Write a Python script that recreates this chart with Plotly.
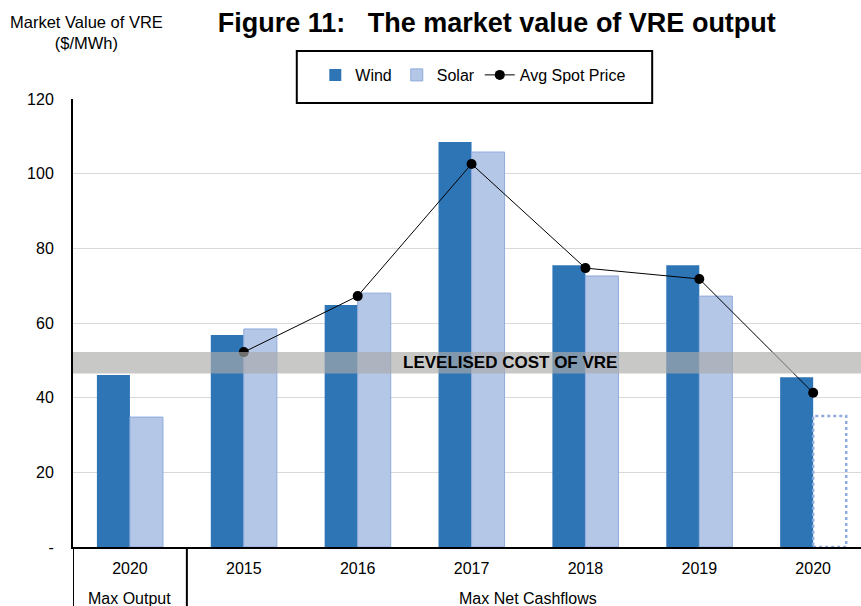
import plotly.graph_objects as go

categories = ["2020", "2015", "2016", "2017", "2018", "2019", "2020"]
wind = [46.1, 56.8, 64.8, 108.5, 75.5, 75.5, 45.5]
solar = [34.8, 58.4, 68.0, 105.8, 72.6, 67.2, None]
solar_estimate_2020 = 35.1
spot_x = [1, 2, 3, 4, 5, 6]
spot_price = [52.2, 67.2, 102.6, 74.7, 71.8, 41.3]
lcoe_low, lcoe_high = 46.5, 52.2
y_ticks = [0, 20, 40, 60, 80, 100, 120]
y_ticklabels = ["-", "20", "40", "60", "80", "100", "120"]
group_labels = ["Max Output", "Max Net Cashflows"]

WIND_C = "#2E75B6"
SOLAR_C = "#B4C7E7"
SOLAR_EDGE = "#8FAADC"
BW = 0.29
x = list(range(len(categories)))
FONT = "Liberation Sans, Arial, sans-serif"

fig = go.Figure()
fig.add_trace(go.Bar(x=x, y=wind, name="Wind", width=BW, offset=-BW,
                     marker=dict(color=WIND_C, line=dict(width=0))))
fig.add_trace(go.Bar(x=x, y=solar, name="Solar", width=BW, offset=0,
                     marker=dict(color=SOLAR_C, line=dict(color=SOLAR_EDGE, width=1))))
fig.add_trace(go.Scatter(x=spot_x, y=spot_price, name="Avg Spot Price", mode="lines+markers",
                         line=dict(color="black", width=1),
                         marker=dict(color="black", size=10)))

shapes = []
# dotted estimate bar for 2020 solar
shapes.append(dict(type="rect", xref="x", yref="y", x0=x[-1], x1=x[-1] + BW,
                   y0=0, y1=solar_estimate_2020, line=dict(color=SOLAR_EDGE, width=2.5, dash="dot"),
                   fillcolor="rgba(0,0,0,0)", layer="above"))
# levelised cost band
shapes.append(dict(type="rect", xref="paper", yref="y", x0=0, x1=1, y0=lcoe_low, y1=lcoe_high,
                   line=dict(width=0), fillcolor="rgba(171,170,169,0.65)", layer="above"))
# legend box
shapes.append(dict(type="rect", xref="paper", yref="paper", x0=0.284, x1=0.735, y0=0.991, y1=1.107,
                   line=dict(color="black", width=2), fillcolor="white", layer="above"))
# category separators below axis
for xv in [-0.5, 0.5]:
    shapes.append(dict(type="line", xref="x", yref="paper", x0=xv, x1=xv, y0=0, y1=-0.14,
                       line=dict(color="black", width=2)))

annotations = [
    dict(text="<b>LEVELISED COST OF VRE</b>", xref="paper", yref="y", x=0.5546, y=(lcoe_low + lcoe_high) / 2,
         showarrow=False, font=dict(size=17, color="black", family=FONT), xanchor="center", yanchor="middle"),
    dict(text="Market Value of VRE<br>($/MWh)", xref="paper", yref="paper", x=0.0165, y=1.196,
         showarrow=False, font=dict(size=16.5, color="black", family=FONT), xanchor="center", yanchor="top"),
    dict(text=group_labels[0], xref="x", yref="paper", x=0, y=-0.114, showarrow=False,
         font=dict(size=16, color="black", family=FONT), xanchor="center", yanchor="middle"),
    dict(text=group_labels[1], xref="x", yref="paper", x=3.5, y=-0.114, showarrow=False,
         font=dict(size=16, color="black", family=FONT), xanchor="center", yanchor="middle"),
]

fig.update_layout(
    width=861, height=606,
    margin=dict(l=73, r=0, t=99, b=59),
    plot_bgcolor="white", paper_bgcolor="white",
    font=dict(family=FONT, size=16, color="black"),
    title=dict(text="<b>Figure 11:   The market value of VRE output</b>", x=0.577, xanchor="center",
               y=0.962, yanchor="middle", font=dict(size=27, family=FONT, color="black")),
    showlegend=True,
    legend=dict(orientation="h", x=0.508, xanchor="center", y=1.0536, yanchor="middle",
                bgcolor="rgba(0,0,0,0)", borderwidth=0, font=dict(size=16, family=FONT),
                itemwidth=30),
    xaxis=dict(range=[-0.5, 6.42], tickmode="array", tickvals=x, ticktext=categories,
               showgrid=False, showline=True, linecolor="black", linewidth=2, ticks="",
               ticklabelstandoff=6, tickfont=dict(size=16), zeroline=False),
    yaxis=dict(range=[0, 120], tickmode="array", tickvals=y_ticks, ticktext=y_ticklabels,
               showgrid=True, gridcolor="#D9D9D9", gridwidth=1, showline=True, linecolor="black",
               linewidth=2, ticks="", ticklabelstandoff=14, tickfont=dict(size=16), zeroline=False),
    shapes=shapes,
    annotations=annotations,
    bargap=0.42,
)

fig.write_html("out.html", config={"displayModeBar": False},
               post_script="document.body.style.margin='0';")
